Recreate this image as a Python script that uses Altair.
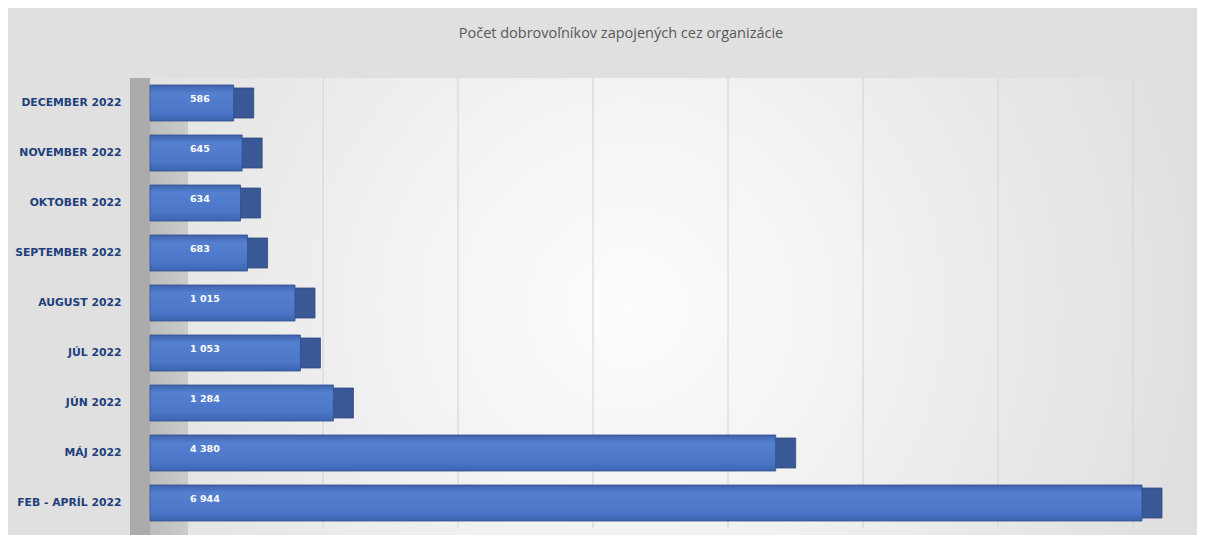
import altair as alt
import pandas as pd

categories = ["DECEMBER 2022", "NOVEMBER 2022", "OKTOBER 2022", "SEPTEMBER 2022",
              "AUGUST 2022", "JÚL 2022", "JÚN 2022", "MÁJ 2022", "FEB - APRÍL 2022"]
values = [586, 645, 634, 683, 1015, 1053, 1284, 4380, 6944]
value_labels = ["586", "645", "634", "683", "1 015", "1 053", "1 284", "4 380", "6 944"]
grid_values = [1000, 2000, 3000, 4000, 5000, 6000, 7000]

df = pd.DataFrame({"cat": categories, "val": values, "lbl": value_labels})
grid_df = pd.DataFrame({"g": grid_values})

W = 1000
H = 450
BG = "#e0e0e0"

y_enc = alt.Y(
    "cat:N", sort=categories,
    scale=alt.Scale(paddingInner=0.28, paddingOuter=0.14),
    axis=alt.Axis(title=None, ticks=False, domain=False, grid=False, zindex=1,
                  labelFont="DejaVu Sans", labelFontWeight="bold", labelFontSize=10.8,
                  labelColor="#203f7c", labelPadding=29, minExtent=142, maxExtent=142),
)
x_scale = alt.Scale(domain=[0, 7000], nice=False)

one = alt.Data(values=[{"a": 1}])

bg = alt.Chart(one).mark_rect(
    fill=alt.Gradient(gradient="radial", x1=0.46, y1=0.5, r1=0, x2=0.46, y2=0.5, r2=0.55,
                      stops=[alt.GradientStop(color="#fdfdfd", offset=0),
                             alt.GradientStop(color="#f1f1f1", offset=0.45),
                             alt.GradientStop(color=BG, offset=1)])
).encode(x=alt.value(0), x2=alt.value(W + 37), y=alt.value(0), y2=alt.value(H + 8))

wall_dark = alt.Chart(one).mark_rect(fill="#ababab").encode(
    x=alt.value(-20), x2=alt.value(0), y=alt.value(0), y2=alt.value(H + 8))
wall = alt.Chart(one).mark_rect(
    fill=alt.Gradient(gradient="linear", x1=0, y1=0, x2=1, y2=0,
                      stops=[alt.GradientStop(color="#bcbcbc", offset=0),
                             alt.GradientStop(color="#cbcbcb", offset=1)])
).encode(x=alt.value(0), x2=alt.value(38), y=alt.value(8), y2=alt.value(H + 8))

grid = alt.Chart(grid_df).mark_rule(color="#d2d2d2", strokeWidth=1).encode(
    x=alt.X("g:Q", scale=alt.Scale(domain=[0, 7000], range=[38, 983], nice=False), axis=None)
)

back = alt.Chart(df).mark_bar(color="#3a5896", xOffset=20, size=30,
                              stroke="#2d4a82", strokeWidth=0.8).encode(
    x=alt.X("val:Q", scale=x_scale, axis=None), y=y_enc)

front = alt.Chart(df).mark_bar(
    size=36, stroke="#2d4f91", strokeWidth=0.8,
    fill=alt.Gradient(gradient="linear", x1=0, y1=0, x2=0, y2=1,
                      stops=[alt.GradientStop(color="#3f63ad", offset=0),
                             alt.GradientStop(color="#5580d0", offset=0.22),
                             alt.GradientStop(color="#4c77c9", offset=0.75),
                             alt.GradientStop(color="#3e64b0", offset=1)])
).encode(x=alt.X("val:Q", scale=x_scale, axis=None), y=y_enc)

text = alt.Chart(df).mark_text(
    align="left", baseline="middle", dy=-4, color="white", fontWeight="bold",
    fontSize=9.5, font="DejaVu Sans"
).encode(x=alt.value(40), y=y_enc, text="lbl:N")

chart = alt.layer(bg, wall_dark, wall, grid, back, front, text).resolve_scale(
    x="independent"
).properties(
    width=W, height=H,
    padding={"left": 0, "top": 18, "right": 10, "bottom": 0},
    background=BG,
    title=alt.TitleParams("Počet dobrovoľníkov zapojených  cez organizácie",
                          font="Open Sans", fontSize=14.5, fontWeight="normal",
                          color="#595959", anchor="middle", offset=36, dx=-29),
).configure_view(stroke=None)

chart.save("out.html", embed_options={"renderer": "svg", "actions": False})
